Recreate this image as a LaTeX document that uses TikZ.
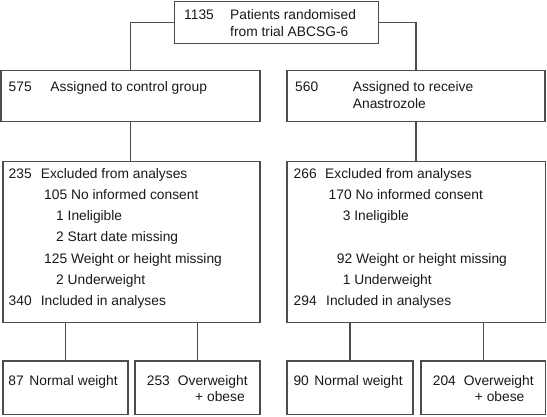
\documentclass[tikz,border=0pt]{standalone}
\usepackage{fontspec}
\setmainfont{Liberation Sans}
\usetikzlibrary{positioning}
\tikzset{
   box/.style={draw=black!70, line width=1.1pt, inner sep=0pt},
   link/.style={draw=black!70, line width=1.1pt},
   txt/.style={anchor=base west, inner sep=0pt, text=black!90,
      font=\fontsize{13.8}{16}\selectfont}
}
\newcommand{\numcol}[2]{\makebox[#1pt][l]{#2}}

\begin{document}
\begin{tikzpicture}[x=1pt, y=-1pt]
   \useasboundingbox (0,0) rectangle (547,416);
   % Randomisation
   \node[box, minimum width=204pt, minimum height=42pt] (top) at (276.5,22.2) {};
   \node[txt] (topA) at (184,19) {\numcol{46}{1135}Patients randomised};
   \node[txt] (topB) at (230,36.5) {from trial ABCSG-6};
   % Arms
   \node[box, minimum width=259pt, minimum height=51.7pt] (ctrl) at (130.5,95.9) {};
   \node[box, minimum width=258pt, minimum height=51.7pt] (anas) at (416,95.9) {};
   \node[txt] (ctrlA) at (8.5,91) {\numcol{41.8}{575}Assigned to control group};
   \node[txt] (anasA) at (295,91) {\numcol{57.7}{560}Assigned to receive};
   \node[txt] (anasB) at (352.7,108.5) {Anastrozole};
   % Exclusions
   \node[box, minimum width=257pt, minimum height=160.3pt] (exclL) at (131.5,241.9) {};
   \node[box, minimum width=258.5pt, minimum height=160.3pt] (exclR) at (416.2,241.9) {};
   \node[txt] (exL1) at (8.5,178.3) {\numcol{32.2}{235}Excluded from analyses};
   \node[txt] (exL2) at (44,199.5) {105 No informed consent};
   \node[txt] (exL3) at (56,220.7) {1 Ineligible};
   \node[txt] (exL4) at (56,241.9) {2 Start date missing};
   \node[txt] (exL5) at (44,263.1) {125 Weight or height missing};
   \node[txt] (exL6) at (56,284.3) {2 Underweight};
   \node[txt] (exL7) at (8.5,305.5) {\numcol{32.2}{340}Included in analyses};
   \node[txt] (exR1) at (293.5,178.3) {\numcol{31.5}{266}Excluded from analyses};
   \node[txt] (exR2) at (328.5,199.5) {170 No informed consent};
   \node[txt] (exR3) at (342.6,220.7) {3 Ineligible};
   \node[txt] (exR5) at (336.7,263.1) {92 Weight or height missing};
   \node[txt] (exR6) at (342.6,284.3) {1 Underweight};
   \node[txt] (exR7) at (293.5,305.5) {\numcol{32.5}{294}Included in analyses};
   % BMI groups
   \node[box, minimum width=125pt, minimum height=53.5pt] (nL1) at (65.5,387.7) {};
   \node[box, minimum width=125pt, minimum height=53.5pt] (nL2) at (197.5,387.7) {};
   \node[box, minimum width=126pt, minimum height=53.5pt] (nR1) at (350,387.7) {};
   \node[box, minimum width=124.5pt, minimum height=53.5pt] (nR2) at (483.2,387.7) {};
   \node[txt] (nL1A) at (8.3,385) {\numcol{21}{87}Normal weight};
   \node[txt] (nL2A) at (146.7,385) {\numcol{31}{253}Overweight};
   \node[txt] (nL2B) at (195,401.5) {+ obese};
   \node[txt] (nR1A) at (293.3,385) {\numcol{21}{90}Normal weight};
   \node[txt] (nR2A) at (432.7,385) {\numcol{31}{204}Overweight};
   \node[txt] (nR2B) at (474.7,401.5) {+ obese};
   % Connectors
   \draw[link] (top.west) -| (ctrl.north);
   \draw[link] (top.east) -| (anas.north);
   \draw[link] (ctrl.south) -- (ctrl.south |- exclL.north);
   \draw[link] (anas.south) -- (anas.south |- exclR.north);
   \draw[link] (nL1.north) -- (nL1.north |- exclL.south);
   \draw[link] (nL2.north) -- (nL2.north |- exclL.south);
   \draw[link] (nR1.north) -- (nR1.north |- exclR.south);
   \draw[link] (nR2.north) -- (nR2.north |- exclR.south);
\end{tikzpicture}
\end{document}
